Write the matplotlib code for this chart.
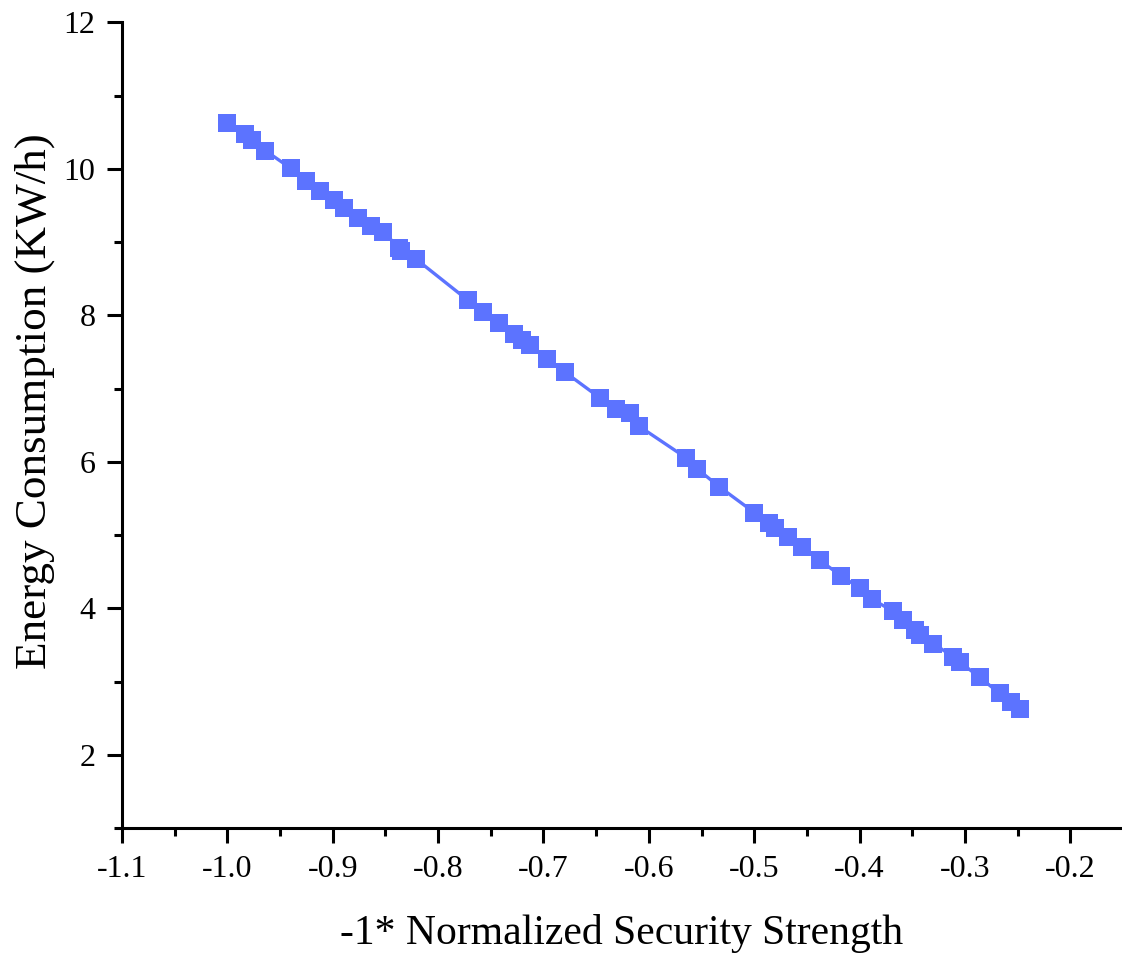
import matplotlib
matplotlib.use('Agg')
import matplotlib.pyplot as plt
from matplotlib.ticker import MultipleLocator

# -1 * normalized security strength vs energy use
security = [-1.000, -0.983, -0.977, -0.964, -0.940, -0.925, -0.9125, -0.899, -0.889, -0.876,
            -0.864, -0.852, -0.837, -0.835, -0.821, -0.772, -0.757, -0.742, -0.728, -0.720,
            -0.713, -0.697, -0.680, -0.646, -0.631, -0.618, -0.6095, -0.565, -0.5545, -0.533,
            -0.500, -0.486, -0.480, -0.468, -0.455, -0.438, -0.418, -0.400, -0.3885, -0.368,
            -0.3585, -0.347, -0.343, -0.330, -0.311, -0.305, -0.286, -0.267, -0.256, -0.248]
energy = [10.63, 10.48, 10.39, 10.25, 10.01, 9.84, 9.70, 9.58, 9.47, 9.33,
          9.22, 9.14, 8.92, 8.88, 8.77, 8.21, 8.04, 7.89, 7.74, 7.66,
          7.59, 7.41, 7.23, 6.87, 6.72, 6.67, 6.49, 6.06, 5.91, 5.66,
          5.31, 5.16, 5.10, 4.98, 4.84, 4.66, 4.45, 4.28, 4.13, 3.96,
          3.84, 3.71, 3.64, 3.52, 3.34, 3.27, 3.06, 2.84, 2.72, 2.63]
xticks = [-1.1, -1.0, -0.9, -0.8, -0.7, -0.6, -0.5, -0.4, -0.3, -0.2]
xticklabels = ['-1.1', '-1.0', '-0.9', '-0.8', '-0.7', '-0.6', '-0.5', '-0.4', '-0.3', '-0.2']
yticks = [2, 4, 6, 8, 10, 12]

plt.rcParams['font.family'] = ['Liberation Serif', 'DejaVu Serif']

fig = plt.figure(figsize=(11.22, 9.59), dpi=100)
ax = fig.add_axes([0.1087, 0.1363, 0.8913, 0.8404])

ax.plot(security, energy, color='#5C73FF', lw=2.4, marker='s', markersize=12.5,
        markeredgewidth=0, clip_on=False)

ax.set_xlim(-1.1, -0.151)
ax.set_ylim(1, 12)
ax.set_xticks(xticks)
ax.set_xticklabels(xticklabels)
ax.set_yticks(yticks)
ax.xaxis.set_minor_locator(MultipleLocator(0.05))
ax.yaxis.set_minor_locator(MultipleLocator(1))

ax.spines['top'].set_visible(False)
ax.spines['right'].set_visible(False)
for s in ['left', 'bottom']:
    ax.spines[s].set_linewidth(2.2)

ax.tick_params(which='major', direction='out', length=11, width=2.2, labelsize=23, pad=8)
ax.tick_params(which='minor', direction='out', length=6, width=2.2)

ax.set_xlabel('-1* Normalized Security Strength', fontsize=30, labelpad=22)
ax.set_ylabel('Energy Consumption (KW/h)', fontsize=32.5)
ax.yaxis.set_label_coords(-0.067, 0.53)

fig.savefig('out.png', dpi=100)
